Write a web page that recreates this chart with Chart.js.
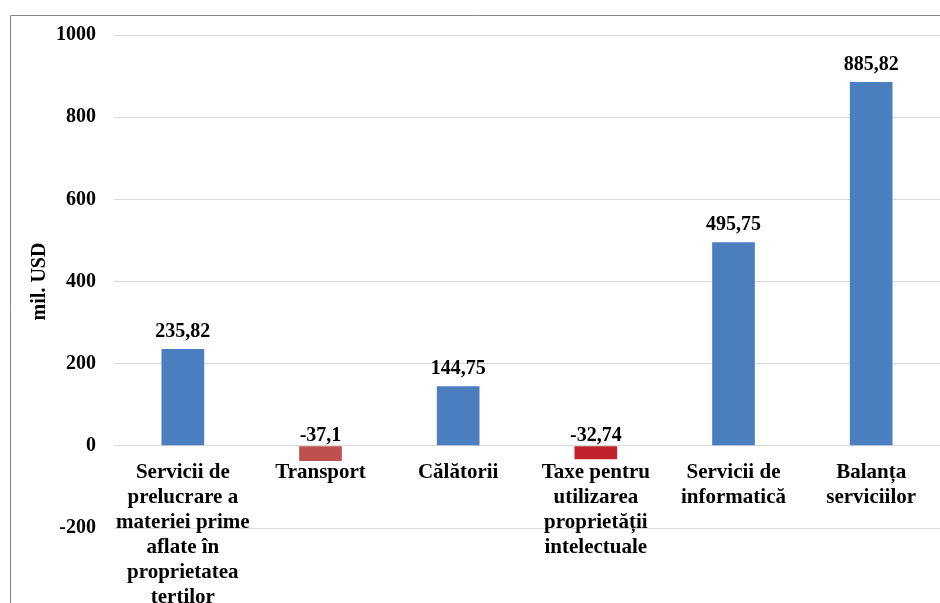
<!DOCTYPE html>
<html>
<head>
<meta charset="utf-8">
<script src="https://cdn.jsdelivr.net/npm/chart.js@4"></script>
<style>
html,body{margin:0;padding:0;background:#fff;}
#wrap{position:relative;width:940px;height:603px;}
canvas{display:block;}
.pre{font-family:"Liberation Serif";font-weight:bold;position:absolute;left:-1000px;top:0;}
</style>
</head>
<body>
<span class="pre">Servicii ăț 0123</span>
<div id="wrap"><canvas id="c" width="940" height="603"></canvas></div>
<script>
const categories = [
  ["Servicii de","prelucrare a","materiei prime","aflate în","proprietatea","terților"],
  "Transport",
  "Călătorii",
  ["Taxe pentru","utilizarea","proprietății","intelectuale"],
  ["Servicii de","informatică"],
  ["Balanța","serviciilor"]
];
const values = [235.82, -37.1, 144.75, -32.74, 495.75, 885.82];
const valueLabels = ["235,82", "-37,1", "144,75", "-32,74", "495,75", "885,82"];
const barColors = ["#4a7ebf", "#c0504d", "#4a7ebf", "#c0242a", "#4a7ebf", "#4a7ebf"];
const yTicks = [-200, 0, 200, 400, 600, 800, 1000];
const yTitle = "mil. USD";

const FONT = '"Liberation Serif", "Times New Roman", serif';

const framePlugin = {
  id: 'frame',
  beforeDraw(chart) {
    const ctx = chart.ctx;
    ctx.save();
    ctx.fillStyle = '#fff';
    ctx.fillRect(0, 0, chart.width, chart.height);
    ctx.strokeStyle = '#868686';
    ctx.lineWidth = 1;
    ctx.beginPath();
    ctx.moveTo(10.5, chart.height);
    ctx.lineTo(10.5, 15.5);
    ctx.lineTo(chart.width, 15.5);
    ctx.stroke();
    ctx.restore();
  }
};

const labelPlugin = {
  id: 'valueLabels',
  afterDatasetsDraw(chart) {
    const ctx = chart.ctx;
    const meta = chart.getDatasetMeta(0);
    const yScale = chart.scales.y;
    const zero = yScale.getPixelForValue(0);
    ctx.save();
    ctx.font = "bold 20px " + FONT;
    ctx.fillStyle = '#000';
    ctx.textAlign = 'center';
    ctx.textBaseline = 'alphabetic';
    meta.data.forEach((bar, i) => {
      const v = values[i];
      const y = v >= 0 ? bar.y - 12 : zero - 5;
      ctx.fillText(valueLabels[i], bar.x, y);
    });
    ctx.restore();
  }
};

function draw() {
  new Chart(document.getElementById('c'), {
    type: 'bar',
    data: {
      labels: categories,
      datasets: [{
        data: values,
        backgroundColor: barColors,
        borderWidth: 0,
        barPercentage: 0.62,
        categoryPercentage: 0.5
      }]
    },
    options: {
      responsive: false,
      animation: false,
      devicePixelRatio: 1,
      layout: { padding: { left: 28, top: 35, right: 0, bottom: 75 } },
      plugins: { legend: { display: false }, tooltip: { enabled: false } },
      scales: {
        x: {
          position: { y: 0 },
          grid: { display: false, drawTicks: false },
          border: { display: false },
          ticks: {
            autoSkip: false,
            maxRotation: 0,
            minRotation: 0,
            padding: 14,
            color: '#000',
            font: { family: FONT, size: 21, weight: 'bold', lineHeight: '25px' }
          }
        },
        y: {
          min: yTicks[0],
          max: yTicks[yTicks.length - 1],
          afterBuildTicks(scale) { scale.ticks = yTicks.map(v => ({ value: v })); },
          afterFit(scale) { scale.width = 86; },
          grid: { color: '#d9d9d9', drawTicks: false, lineWidth: 1 },
          border: { display: false },
          ticks: {
            padding: 18,
            color: '#000',
            callback: (v) => String(v),
            font: { family: FONT, size: 20, weight: 'bold' }
          },
          title: {
            display: true,
            text: yTitle,
            color: '#000',
            padding: { top: 0, bottom: 3 },
            font: { family: FONT, size: 20, weight: 'bold', lineHeight: 1.2 }
          }
        }
      }
    },
    plugins: [framePlugin, labelPlugin]
  });
}

if (document.fonts && document.fonts.load) {
  document.fonts.load('bold 20px "Liberation Serif"').then(draw, draw);
} else {
  draw();
}
</script>
</body>
</html>
